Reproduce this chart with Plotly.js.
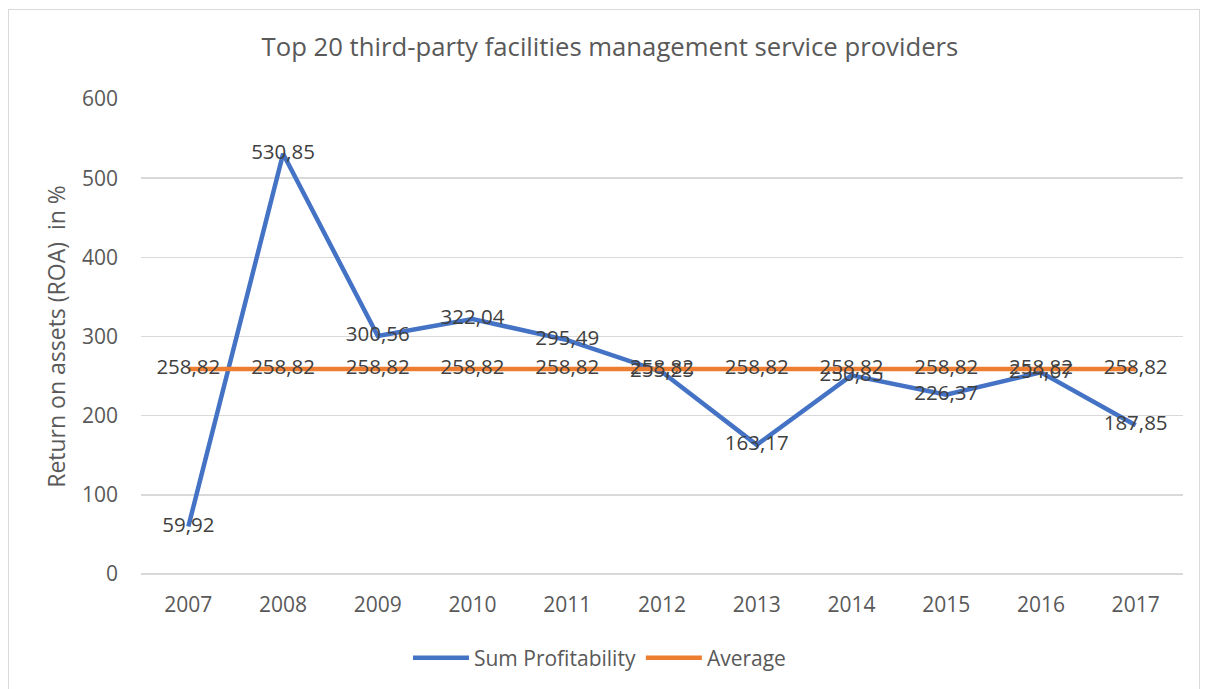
<!DOCTYPE html>
<html>
<head>
<meta charset="utf-8">
<script src="https://cdn.plot.ly/plotly-3.0.1.min.js"></script>
<style>
html,body{margin:0;padding:0;background:#fff;width:1206px;height:689px;overflow:hidden;}
#frame{position:absolute;left:8px;top:9px;width:1190px;height:690px;border:1px solid #d9d9d9;}
#chart{width:1190px;height:680px;}
</style>
</head>
<body>
<div id="frame"><div id="chart"></div></div>
<script>
const years = ['2007','2008','2009','2010','2011','2012','2013','2014','2015','2016','2017'];
const sumProfitability = [59.92, 530.85, 300.56, 322.04, 295.49, 255.25, 163.17, 250.85, 226.37, 254.67, 187.85];
const averageValue = [258.82, 258.82, 258.82, 258.82, 258.82, 258.82, 258.82, 258.82, 258.82, 258.82, 258.82];
const yTicks = [0, 100, 200, 300, 400, 500, 600];

const fmt = v => v.toFixed(2).replace('.', ',');
const FONT = 'Open Sans, sans-serif';

const traces = [
  {
    x: years, y: sumProfitability, name: 'Sum Profitability', type: 'scatter', mode: 'lines+text',
    line: {color: '#4472C4', width: 4.5},
    text: sumProfitability.map(fmt), textposition: 'middle center',
    textfont: {family: FONT, size: 20.5, color: '#404040'},
    hoverinfo: 'skip', cliponaxis: false
  },
  {
    x: years, y: averageValue, name: 'Average', type: 'scatter', mode: 'lines+text',
    line: {color: '#ED7D31', width: 4.5},
    text: averageValue.map(fmt), textposition: 'middle center',
    textfont: {family: FONT, size: 20.5, color: '#404040'},
    hoverinfo: 'skip', cliponaxis: false
  }
];

const layout = {
  width: 1190, height: 680,
  margin: {l: 132, r: 16, t: 89, b: 106},
  paper_bgcolor: '#fff', plot_bgcolor: '#fff',
  font: {family: FONT, color: '#595959', size: 21},
  title: {text: 'Top 20 third-party facilities management service providers', font: {family: FONT, size: 25.7, color: '#595959'}, x: 0.505, xanchor: 'center', y: 0.945, yanchor: 'middle'},
  xaxis: {type: 'category', range: [-0.5, 10.5], showgrid: false, showline: false, zeroline: false, ticks: '', tickfont: {size: 21, color: '#595959'}, ticklabelstandoff: 16, fixedrange: true},
  yaxis: {range: [0, 600], tickvals: yTicks, ticktext: yTicks.map(String), showgrid: true, gridcolor: '#d9d9d9', gridwidth: 1.5, zeroline: true, zerolinecolor: '#d9d9d9', zerolinewidth: 1.5, showline: false, ticks: '', tickfont: {size: 21, color: '#595959'}, ticklabelstandoff: 22,
    title: {text: 'Return on assets (ROA)  in %', font: {size: 23, color: '#595959'}, standoff: 9}, fixedrange: true},
  showlegend: true,
  legend: {orientation: 'h', x: 0.44, xanchor: 'center', y: -0.177, yanchor: 'middle', font: {size: 21, color: '#595959'}, itemwidth: 56, traceorder: 'normal'}
};

Plotly.newPlot('chart', traces, layout, {displayModeBar: false, staticPlot: true});
</script>
</body>
</html>
